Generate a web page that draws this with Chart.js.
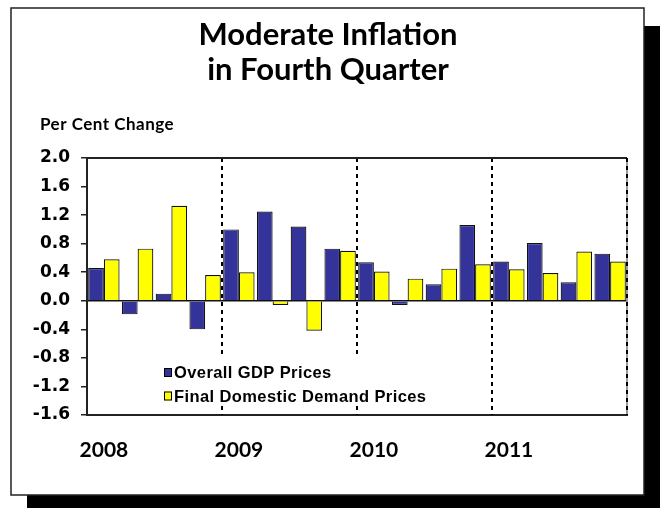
<!DOCTYPE html>
<html>
<head>
<meta charset="utf-8">
<script src="https://cdn.jsdelivr.net/npm/chart.js@4.4.0/dist/chart.umd.min.js"></script>
<style>
html, body { margin: 0; padding: 0; background: #fff; }
#wrap { width: 660px; height: 508px; }
</style>
</head>
<body>
<div id="wrap"><canvas id="chart" width="660" height="508"></canvas></div>
<script>
const quarters = [
    "2008 Q1", "2008 Q2", "2008 Q3", "2008 Q4",
    "2009 Q1", "2009 Q2", "2009 Q3", "2009 Q4",
    "2010 Q1", "2010 Q2", "2010 Q3", "2010 Q4",
    "2011 Q1", "2011 Q2", "2011 Q3", "2011 Q4"
];
const yearLabels = ["2008", "2009", "2010", "2011"];
const gdpPrices = [0.46, -0.19, 0.10, -0.40, 1.00, 1.25, 1.04, 0.73, 0.54, -0.06, 0.23, 1.06, 0.55, 0.81, 0.26, 0.66];
const demandPrices = [0.58, 0.73, 1.33, 0.36, 0.40, -0.06, -0.42, 0.70, 0.41, 0.31, 0.45, 0.51, 0.44, 0.39, 0.69, 0.55];
const yTicks = [-1.6, -1.2, -0.8, -0.4, 0.0, 0.4, 0.8, 1.2, 1.6, 2.0];
const seriesNames = ["Overall GDP Prices", "Final Domestic Demand Prices"];

const titleFont = "Lato, 'Open Sans', sans-serif";
const numberFont = "'DejaVu Sans', sans-serif";
const legendFont = "'Liberation Sans', Arial, sans-serif";

// Frame, drop shadow, title and the unit label
const framePlugin = {
    id: "frame",
    beforeDraw(chart) {
        const ctx = chart.ctx;
        ctx.save();
        ctx.fillStyle = "#fff";
        ctx.fillRect(0, 0, chart.width, chart.height);
        ctx.fillStyle = "#000";
        ctx.fillRect(27, 26, chart.width, chart.height);
        ctx.fillStyle = "#fff";
        ctx.fillRect(11, 8, 633, 487);
        ctx.strokeStyle = "#222";
        ctx.lineWidth = 1.5;
        ctx.strokeRect(11, 8, 633, 487);

        ctx.fillStyle = "#000";
        ctx.textAlign = "center";
        ctx.textBaseline = "alphabetic";
        ctx.font = "bold 31px " + titleFont;
        ctx.fillText("Moderate Inflation", 328, 45);
        ctx.fillText("in Fourth Quarter", 328, 80);

        ctx.textAlign = "left";
        ctx.font = "bold 17px " + titleFont;
        ctx.letterSpacing = "0.5px";
        ctx.fillText("Per Cent Change", 40, 130);
        ctx.restore();
    },
    beforeDatasetsDraw(chart) {
        const ctx = chart.ctx;
        const area = chart.chartArea;
        const x = chart.scales.x;
        ctx.save();
        ctx.strokeStyle = "#000";
        ctx.lineWidth = 2;
        ctx.setLineDash([4, 4]);
        for (let i = 4; i < quarters.length; i += 4) {
            const px = Math.round((x.getPixelForValue(i - 1) + x.getPixelForValue(i)) / 2);
            ctx.beginPath();
            ctx.moveTo(px, area.top);
            ctx.lineTo(px, area.bottom);
            ctx.stroke();
        }
        ctx.restore();
    },
    afterDatasetsDraw(chart) {
        const ctx = chart.ctx;
        const area = chart.chartArea;
        ctx.save();
        // top and right border of the plot
        ctx.strokeStyle = "#222";
        ctx.lineWidth = 2;
        ctx.beginPath();
        ctx.moveTo(area.left, area.top);
        ctx.lineTo(area.right, area.top);
        ctx.stroke();
        ctx.strokeStyle = "#999";
        ctx.beginPath();
        ctx.moveTo(area.right, area.top);
        ctx.lineTo(area.right, area.bottom);
        ctx.stroke();
        ctx.strokeStyle = "#000";
        ctx.setLineDash([4, 4]);
        ctx.beginPath();
        ctx.moveTo(area.right, area.top);
        ctx.lineTo(area.right, area.bottom);
        ctx.stroke();
        ctx.setLineDash([]);

        // legend inside the plot, on a white patch over the dashed lines
        ctx.fillStyle = "#fff";
        ctx.fillRect(158, 357, 282, 47);
        ctx.font = "bold 16.5px " + legendFont;
        ctx.letterSpacing = "0.4px";
        ctx.textBaseline = "middle";
        ctx.textAlign = "left";
        chart.data.datasets.forEach((ds, i) => {
            const y = 372.5 + i * 23.5;
            ctx.fillStyle = ds.backgroundColor;
            ctx.fillRect(164, y - 4.5, 8, 9);
            ctx.strokeStyle = "#000";
            ctx.lineWidth = 1;
            ctx.strokeRect(164.5, y - 4, 7, 8);
            ctx.fillStyle = "#000";
            ctx.fillText(ds.label, 174, y + 1);
        });
        ctx.restore();
    }
};

const chart = new Chart(document.getElementById("chart"), {
    type: "bar",
    data: {
        labels: quarters,
        datasets: [
            {
                label: seriesNames[0],
                data: gdpPrices,
                backgroundColor: "#333399",
                borderColor: "#111",
                borderWidth: 1.2,
                categoryPercentage: 0.93,
                barPercentage: 1.0
            },
            {
                label: seriesNames[1],
                data: demandPrices,
                backgroundColor: "#FFFF00",
                borderColor: "#111",
                borderWidth: 1.2,
                categoryPercentage: 0.93,
                barPercentage: 1.0
            }
        ]
    },
    options: {
        responsive: false,
        animation: false,
        layout: { padding: { left: 20, top: 158, right: 33, bottom: 33 } },
        plugins: {
            legend: { display: false },
            title: { display: false },
            tooltip: { enabled: false }
        },
        scales: {
            x: {
                offset: true,
                grid: { display: false, drawTicks: false },
                border: { display: true, color: "#222", width: 2 },
                ticks: {
                    autoSkip: false,
                    maxRotation: 0,
                    padding: 23,
                    color: "#000",
                    font: { family: titleFont, size: 21, weight: "bold" },
                    callback: (val, i) => (i % 4 === 0 ? yearLabels[i / 4] : "")
                },
                afterFit: scale => { scale.height = 60; }
            },
            y: {
                min: yTicks[0],
                max: yTicks[yTicks.length - 1],
                afterBuildTicks: scale => { scale.ticks = yTicks.map(v => ({ value: v })); },
                grid: {
                    drawOnChartArea: true,
                    color: c => (c.tick && c.tick.value === 0 ? "#111" : "rgba(0,0,0,0)"),
                    lineWidth: 1.5,
                    tickColor: "#222",
                    tickLength: 6
                },
                border: { display: true, color: "#222", width: 2 },
                ticks: {
                    padding: 11,
                    color: "#000",
                    font: { family: numberFont, size: 17, weight: "bold" },
                    callback: v => v.toFixed(1)
                },
                afterFit: scale => { scale.width = 67; }
            }
        }
    },
    plugins: [framePlugin]
});
</script>
</body>
</html>
